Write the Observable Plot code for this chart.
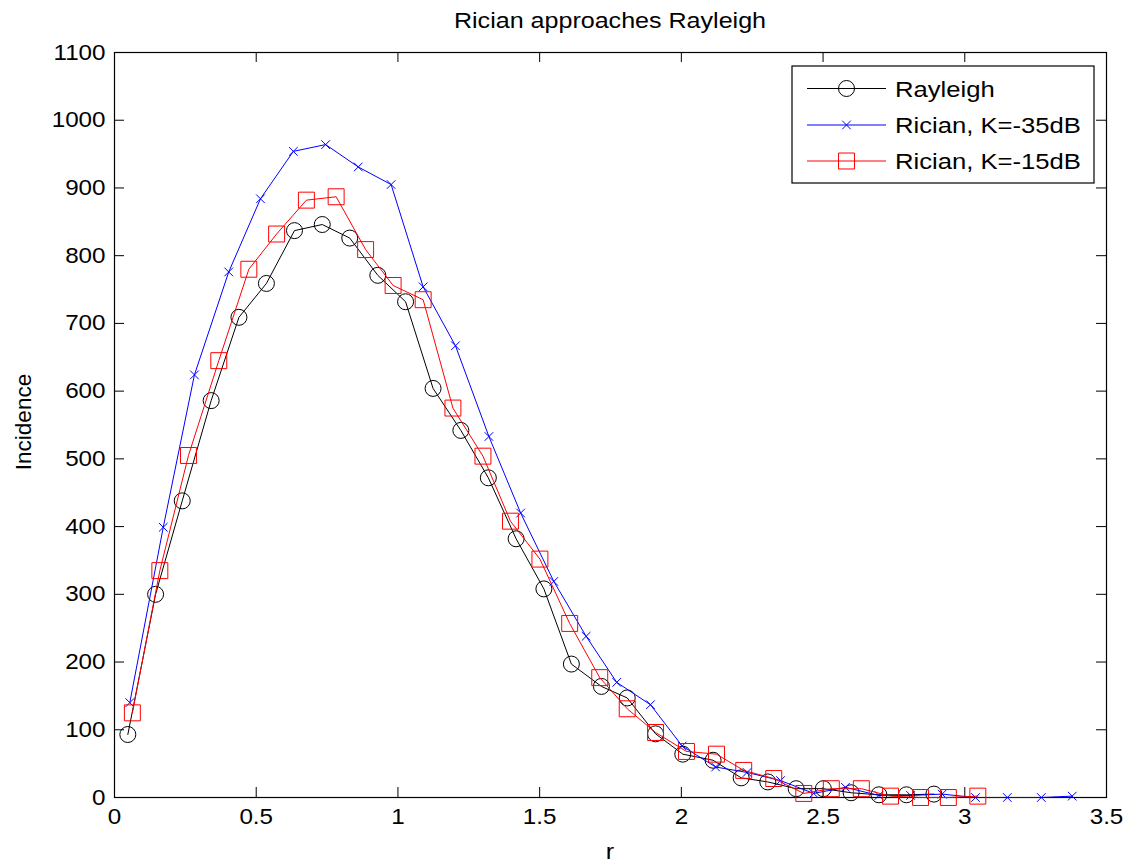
<!DOCTYPE html>
<html>
<head>
<meta charset="utf-8">
<script src="https://cdn.jsdelivr.net/npm/d3@7"></script>
<script src="https://cdn.jsdelivr.net/npm/@observablehq/plot@0.6"></script>
<style>
  html, body { margin: 0; padding: 0; background: #fff; }
  #chart svg { display: block; }
</style>
</head>
<body>
<div id="chart"></div>
<script>
// ---------- text ----------
const chartTitle = "Rician approaches Rayleigh";
const xLabel = "r";
const yLabel = "Incidence";
const seriesNames = ["Rayleigh", "Rician, K=-35dB", "Rician, K=-15dB"];
const seriesColors = ["#000000", "#0000ff", "#ff0000"];

// ---------- ticks ----------
const xTicks = [0, 0.5, 1, 1.5, 2, 2.5, 3, 3.5];
const xTickLabels = ["0", "0.5", "1", "1.5", "2", "2.5", "3", "3.5"];
const yTicks = [0, 100, 200, 300, 400, 500, 600, 700, 800, 900, 1000, 1100];
const yTickLabels = ["0", "100", "200", "300", "400", "500", "600", "700", "800", "900", "1000", "1100"];

// ---------- data ----------
const rayleighR = [0.047, 0.145, 0.239, 0.341, 0.439, 0.536, 0.635, 0.733, 0.830, 0.929,
                   1.027, 1.124, 1.222, 1.319, 1.417, 1.515, 1.612, 1.718, 1.809, 1.909,
                   2.005, 2.112, 2.211, 2.305, 2.405, 2.501, 2.599, 2.697, 2.794, 2.891];
const rayleighN = [93, 300, 438, 586, 709, 759, 837, 846, 826, 771,
                   732, 604, 542, 472, 382, 308, 197, 164, 147, 94,
                   64, 55, 29, 23, 13, 13, 7, 4, 4, 5];

const k35R = [0.054, 0.172, 0.282, 0.403, 0.515, 0.631, 0.745, 0.860, 0.976, 1.089,
              1.203, 1.321, 1.433, 1.550, 1.664, 1.772, 1.891, 2.003, 2.121, 2.232,
              2.350, 2.467, 2.579, 2.697, 2.809, 2.920, 3.038, 3.150, 3.270, 3.379];
const k35N = [140, 399, 624, 776, 884, 954, 964, 931, 905, 754,
              667, 533, 420, 319, 238, 170, 137, 76, 45, 37,
              25, 6, 15, 3, 3, 5, 0, 0, 0, 2];

const k15R = [0.063, 0.160, 0.261, 0.368, 0.474, 0.572, 0.677, 0.782, 0.886, 0.983,
              1.089, 1.194, 1.300, 1.397, 1.501, 1.606, 1.712, 1.809, 1.909, 2.018,
              2.124, 2.220, 2.326, 2.432, 2.529, 2.635, 2.738, 2.844, 2.942, 3.046];
const k15N = [125, 335, 505, 645, 780, 832, 882, 887, 809, 756,
              735, 575, 504, 408, 352, 257, 177, 131, 96, 68,
              64, 40, 28, 6, 13, 13, 2, 0, 0, 2];

// ---------- layout ----------
const W = 1135, H = 863;
const mL = 114, mR = 29, mT = 52, mB = 66;
const fw = W - mL - mR, fh = H - mT - mB;
const tickLen = 10;
const FONT = "'Liberation Sans', Arial, Helvetica, sans-serif";
const STRETCH = 1.1;
const STRETCH_TXT = 1.14;

const toRows = (xs, ys) => xs.map((x, i) => ({x, y: ys[i]}));
const ray = toRows(rayleighR, rayleighN);
const k35 = toRows(k35R, k35N);
const k15 = toRows(k15R, k15N);

const chart = Plot.plot({
  width: W,
  height: H,
  marginLeft: mL,
  marginRight: mR,
  marginTop: mT,
  marginBottom: mB,
  x: {domain: [0, 3.5]},
  y: {domain: [0, 1100]},
  style: {fontFamily: FONT, fontSize: "22px", color: "#000", background: "#fff", overflow: "visible"},
  marks: [
    Plot.axisX({ticks: xTicks, tickSize: 0, tickPadding: 11, label: null,
                tickFormat: d => xTickLabels[xTicks.indexOf(d)]}),
    Plot.axisY({ticks: yTicks, tickSize: 0, tickPadding: 9, label: null,
                tickFormat: d => yTickLabels[yTicks.indexOf(d)]}),
    // inward ticks on all four sides
    Plot.tickX(xTicks, {x: d => d, insetTop: fh - tickLen, stroke: "#000", strokeWidth: 1}),
    Plot.tickX(xTicks, {x: d => d, insetBottom: fh - tickLen, stroke: "#000", strokeWidth: 1}),
    Plot.tickY(yTicks, {y: d => d, insetRight: fw - tickLen, stroke: "#000", strokeWidth: 1}),
    Plot.tickY(yTicks, {y: d => d, insetLeft: fw - tickLen, stroke: "#000", strokeWidth: 1}),
    Plot.frame({stroke: "#000", strokeWidth: 1.2}),
    // Rayleigh
    Plot.line(ray, {x: "x", y: "y", stroke: seriesColors[0], strokeWidth: 1}),
    Plot.dot(ray, {x: "x", y: "y", r: 8, symbol: "circle", stroke: seriesColors[0], fill: "none", strokeWidth: 1}),
    // Rician K=-35dB
    Plot.line(k35, {x: "x", y: "y", stroke: seriesColors[1], strokeWidth: 1}),
    Plot.dot(k35, {x: "x", y: "y", r: 4, symbol: "times", stroke: seriesColors[1], fill: "none", strokeWidth: 1}),
    // Rician K=-15dB
    Plot.line(k15, {x: "x", y: "y", stroke: seriesColors[2], strokeWidth: 1}),
    Plot.dot(k15, {x: "x", y: "y", r: 9, symbol: "square", stroke: seriesColors[2], fill: "none", strokeWidth: 1})
  ]
});

document.getElementById("chart").appendChild(chart);

// stretch Plot's horizontal texts slightly (reference glyphs are wide)
chart.querySelectorAll("text").forEach(t => {
  const tf = t.getAttribute("transform") || "";
  const x = +(t.getAttribute("x") || 0);
  t.setAttribute("transform", `${tf} translate(${x},0) scale(${STRETCH},1) translate(${-x},0)`);
});

const svg = d3.select(chart);
const cx = mL + fw / 2;

// title
svg.append("text")
  .attr("transform", `translate(${cx},28) scale(${STRETCH_TXT},1)`)
  .attr("text-anchor", "middle")
  .attr("font-family", FONT).attr("font-size", 22).attr("fill", "#000")
  .text(chartTitle);

// x label
svg.append("text")
  .attr("transform", `translate(${cx},859) scale(${STRETCH_TXT},1)`)
  .attr("text-anchor", "middle")
  .attr("font-family", FONT).attr("font-size", 22).attr("fill", "#000")
  .text(xLabel);

// y label
svg.append("text")
  .attr("transform", `translate(31,422) rotate(-90)`)
  .attr("text-anchor", "middle")
  .attr("font-family", FONT).attr("font-size", 22.5).attr("fill", "#000")
  .text(yLabel);

// legend
const lg = svg.append("g");
const lgX = 792, lgY = 66, lgW = 302, lgH = 117;
lg.append("rect").attr("x", lgX).attr("y", lgY).attr("width", lgW).attr("height", lgH)
  .attr("fill", "#fff").attr("stroke", "#000").attr("stroke-width", 1.2);
const rowYs = [88.5, 125, 161];
const symbols = [d3.symbolCircle, d3.symbolTimes, d3.symbolSquare];
const symSizes = [Math.PI * 64, Math.PI * 16, Math.PI * 81];
seriesNames.forEach((name, i) => {
  const y = rowYs[i];
  lg.append("line").attr("x1", 807).attr("x2", 886).attr("y1", y).attr("y2", y)
    .attr("stroke", seriesColors[i]).attr("stroke-width", 1);
  if (i === 0) {
    lg.append("circle").attr("cx", 846.5).attr("cy", y).attr("r", 8)
      .attr("fill", "none").attr("stroke", seriesColors[i]).attr("stroke-width", 1);
  } else {
    lg.append("path").attr("d", d3.symbol(symbols[i], symSizes[i])())
      .attr("transform", `translate(846.5,${y})`)
      .attr("fill", "none").attr("stroke", seriesColors[i]).attr("stroke-width", 1);
  }
  lg.append("text")
    .attr("transform", `translate(895,${y}) scale(${STRETCH_TXT},1)`)
    .attr("text-anchor", "start")
    .attr("dy", "0.36em")
    .attr("font-family", FONT).attr("font-size", 22.5).attr("fill", "#000")
    .text(name);
});
</script>
</body>
</html>
